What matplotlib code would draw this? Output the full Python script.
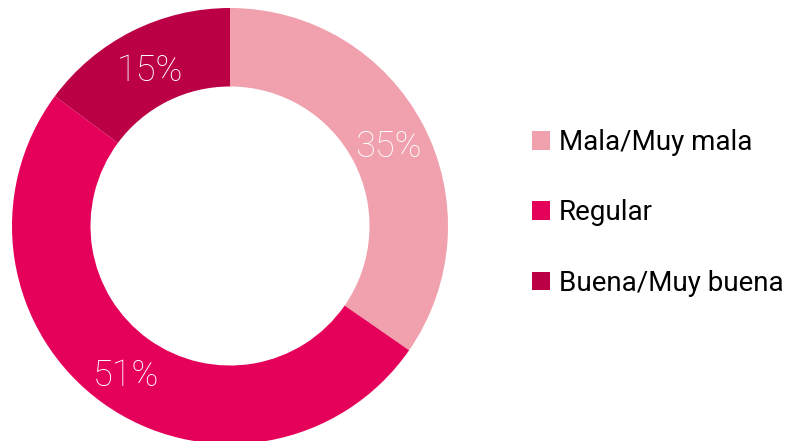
import matplotlib.pyplot as plt
from matplotlib.patches import Patch
import numpy as np

labels = ['Mala/Muy mala', 'Regular', 'Buena/Muy buena']
values = [35, 51, 15]
colors = ['#F0A1AD', '#E5005A', '#BB0045']

plt.rcParams['font.family'] = ['Roboto', 'DejaVu Sans']

fig = plt.figure(figsize=(8.09, 4.41), dpi=100)
W, H = 809, 441
cx, cy, r = 230, 226, 218
ax = fig.add_axes([(cx - r) / W, (H - cy - r) / H, 2 * r / W, 2 * r / H])

wedges, _ = ax.pie(values, colors=colors, startangle=90, counterclock=False,
                   radius=1.0, wedgeprops=dict(width=0.36, edgecolor='none'))
ax.set_xlim(-1, 1)
ax.set_ylim(-1, 1)
ax.set_aspect('equal')
ax.axis('off')

total = sum(values)
start = 90
for v, w in zip(values, wedges):
    mid = np.deg2rad(start - v / total * 360 / 2)
    start -= v / total * 360
    ax.text(0.82 * np.cos(mid), 0.82 * np.sin(mid) - 0.02, f'{v}%', ha='center', va='center',
            color='white', fontsize=26, fontweight='light')

handles = [Patch(facecolor=c, edgecolor='none') for c in colors]
fig.legend(handles, labels, loc='center left', bbox_to_anchor=(532 / W, 1 - 213 / H),
           frameon=False, fontsize=20, handlelength=0.65, handleheight=0.65,
           handletextpad=0.32, labelspacing=1.55, borderpad=0, borderaxespad=0)

fig.savefig('out.png', dpi=100)
